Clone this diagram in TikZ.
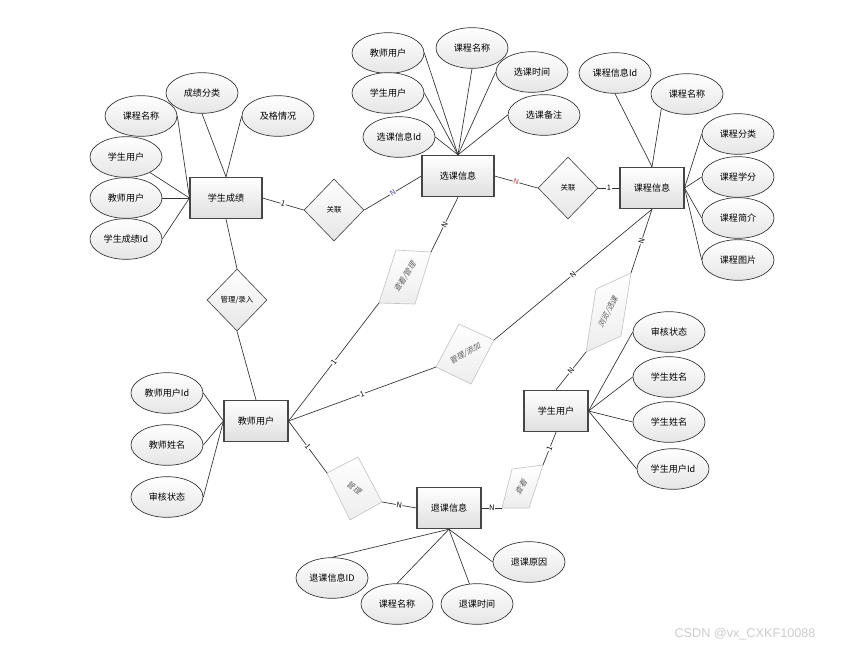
\documentclass[tikz,border=0pt]{standalone}
\usepackage{fontspec}
\setmainfont{Noto Sans CJK SC}
\newfontfamily\slfont[FakeSlant=0.25]{Noto Sans CJK SC}
\newfontfamily\wmfont{Liberation Sans}
\usetikzlibrary{shapes.geometric}

\tikzset{
	ent/.style={draw=gray!55!black, line width=0.8pt, top color=white, bottom color=gray!25,
		minimum width=48pt, minimum height=31pt, inner sep=1pt, font=\fontsize{6.8}{8}\selectfont},
	attr/.style={ellipse, draw=black!80, line width=0.5pt, top color=white, bottom color=gray!20,
		minimum width=54pt, minimum height=30.5pt, inner sep=0pt, font=\fontsize{6.8}{8}\selectfont},
	rel/.style={diamond, draw=gray!60!black, line width=0.5pt, top color=white, bottom color=gray!20,
		minimum width=45pt, minimum height=46.5pt, inner sep=0pt, font=\fontsize{5.6}{7}\selectfont},
	skewbox/.style={draw=gray!45, line width=0.5pt, top color=white, bottom color=gray!14},
	skewtxt/.style={font=\slfont\fontsize{5.8}{7}\selectfont, text=gray!75!black, inner sep=0pt},
	lnk/.style={draw=black!80, line width=0.5pt},
	card/.style={font=\fontsize{5.6}{6}\selectfont, fill=white, inner sep=0.4pt, sloped, midway}
}

\begin{document}
\begin{tikzpicture}[x=0.75pt,y=-0.75pt]
	\useasboundingbox (0,0) rectangle (841,650);
	% entities
	\node[ent, minimum width=54pt] (SG) at (226,198) {学生成绩};
	\node[ent, minimum width=54pt] (XK) at (458,176) {选课信息};
	\node[ent] (KC) at (652,188) {课程信息};
	\node[ent] (JS) at (256,421) {教师用户};
	\node[ent] (XS) at (556,411) {学生用户};
	\node[ent] (TK) at (449,508) {退课信息};
	% relations
	\node[rel] (R1) at (334,210) {关联};
	\node[rel] (R2) at (568,188) {关联};
	\node[rel] (R3) at (237,300) {管理/录入};
	% attributes of 学生成绩
	\node[attr] (SG1) at (141,116) {课程名称};
	\node[attr] (SG2) at (202,93) {成绩分类};
	\node[attr] (SG3) at (278,116) {及格情况};
	\node[attr] (SG4) at (126,157) {学生用户};
	\node[attr] (SG5) at (126,198) {教师用户};
	\node[attr] (SG6) at (126,239) {学生成绩Id};
	% attributes of 选课信息
	\node[attr] (XK1) at (388,53) {教师用户};
	\node[attr] (XK2) at (472,48) {课程名称};
	\node[attr] (XK3) at (532,72) {选课时间};
	\node[attr] (XK4) at (388,93) {学生用户};
	\node[attr] (XK5) at (544,115) {选课备注};
	\node[attr] (XK6) at (399,137) {选课信息Id};
	% attributes of 课程信息
	\node[attr] (KC1) at (615,73) {课程信息Id};
	\node[attr] (KC2) at (687,94) {课程名称};
	\node[attr] (KC3) at (738,134) {课程分类};
	\node[attr] (KC4) at (738,177) {课程学分};
	\node[attr] (KC5) at (738,218) {课程简介};
	\node[attr] (KC6) at (738,260) {课程图片};
	% attributes of 教师用户
	\node[attr] (JS1) at (167,393) {教师用户Id};
	\node[attr] (JS2) at (167,445) {教师姓名};
	\node[attr] (JS3) at (167,497) {审核状态};
	% attributes of 学生用户
	\node[attr] (XS1) at (669,332) {审核状态};
	\node[attr] (XS2) at (669,377) {学生姓名};
	\node[attr] (XS3) at (669,422) {学生姓名};
	\node[attr] (XS4) at (673,469) {学生用户Id};
	% attributes of 退课信息
	\node[attr] (TK1) at (332,578) {退课信息ID};
	\node[attr] (TK2) at (397,604) {课程名称};
	\node[attr] (TK3) at (477,604) {退课时间};
	\node[attr] (TK4) at (529,562) {退课原因};
	% slanted relations
	\coordinate (CK1) at (379,303); \coordinate (CK2) at (396,250);
	\coordinate (CK3) at (431,252); \coordinate (CK4) at (415,304);
	\coordinate (GT1) at (436,367); \coordinate (GT2) at (459,324);
	\coordinate (GT3) at (494,340); \coordinate (GT4) at (471,384);
	\coordinate (LL1) at (586,352); \coordinate (LL2) at (596,289);
	\coordinate (LL3) at (631,273); \coordinate (LL4) at (621,336);
	\coordinate (GL1) at (327,473); \coordinate (GL2) at (358,457);
	\coordinate (GL3) at (382,502); \coordinate (GL4) at (350,520);
	\coordinate (CT1) at (502,508); \coordinate (CT2) at (512,469);
	\coordinate (CT3) at (543,465); \coordinate (CT4) at (529,508);
	\path[skewbox] (CK1)--(CK2)--(CK3)--(CK4)--cycle;
	\path[skewbox] (GT1)--(GT2)--(GT3)--(GT4)--cycle;
	\path[skewbox] (LL1)--(LL2)--(LL3)--(LL4)--cycle;
	\path[skewbox] (GL1)--(GL2)--(GL3)--(GL4)--cycle;
	\path[skewbox] (CT1)--(CT2)--(CT3)--(CT4)--cycle;
	\node[skewtxt, rotate=58] (CK) at (405,277) {查看/管理};
	\node[skewtxt, rotate=30] (GT) at (465,354) {管理/添加};
	\node[skewtxt, rotate=62] (LL) at (608,312) {浏览/选课};
	\node[skewtxt, rotate=-35] (GL) at (354,488) {管理};
	\node[skewtxt, rotate=58] (CT) at (521,487) {查看};
	% attribute links
	\foreach \a in {SG1,SG5,SG6} \draw[lnk] (\a.east) -- (SG.west);
	\draw[lnk] (SG4) -- (SG.west);
	\draw[lnk] (SG2.south) -- (SG.north);
	\draw[lnk] (SG3.west) -- (SG.north);
	\foreach \a in {XK1,XK4,XK6} \draw[lnk] (\a.east) -- (XK.north);
	\foreach \a in {XK3,XK5} \draw[lnk] (\a.west) -- (XK.north);
	\draw[lnk] (XK2.south) -- (XK.north);
	\draw[lnk] (KC1.south) -- (KC.north);
	\draw[lnk] (KC2.south west) -- (KC.north);
	\foreach \a in {KC3,KC4,KC5,KC6} \draw[lnk] (\a.west) -- (KC.east);
	\foreach \a in {JS1,JS2,JS3} \draw[lnk] (\a.east) -- (JS.west);
	\foreach \a in {XS1,XS2,XS3,XS4} \draw[lnk] (\a.west) -- (XS.east);
	\draw[lnk] (TK1.north) -- (TK.south);
	\draw[lnk] (TK2.north) -- (TK.south);
	\draw[lnk] (TK3) -- (TK.south);
	\draw[lnk] (TK4.west) -- (TK.south);
	% relation links
	\draw[lnk] (SG.east) -- (R1.west) node[card]{1};
	\draw[lnk] (R1.east) -- (XK.west) node[card, text=blue!45!gray]{N};
	\draw[lnk] (XK.east) -- (R2.west) node[card, text=red!45!gray]{N};
	\draw[lnk] (R2.east) -- (KC.west) node[card]{1};
	\draw[lnk] (SG.south) -- (R3.north);
	\draw[lnk] (R3.south) -- (JS.north);
	\draw[lnk] (JS.east) -- (CK1) node[card]{1};
	\draw[lnk] (CK3) -- (XK.south) node[card]{N};
	\draw[lnk] (JS.east) -- (GT1) node[card]{1};
	\draw[lnk] (GT3) -- (KC.south) node[card]{N};
	\draw[lnk] (XS.north) -- (LL1) node[card]{N};
	\draw[lnk] (LL3) -- (KC.south) node[card]{N};
	\draw[lnk] (JS.east) -- (GL1) node[card]{1};
	\draw[lnk] (GL3) -- (TK.west) node[card]{N};
	\draw[lnk] (TK.east) -- (CT1) node[card]{N};
	\draw[lnk] (CT3) -- (XS.south) node[card]{1};
	% watermark
	\node[font=\wmfont\fontsize{9.5}{11}\selectfont, text=gray!40] (WM) at (745,634) {CSDN @vx\_CXKF10088};
\end{tikzpicture}
\end{document}
